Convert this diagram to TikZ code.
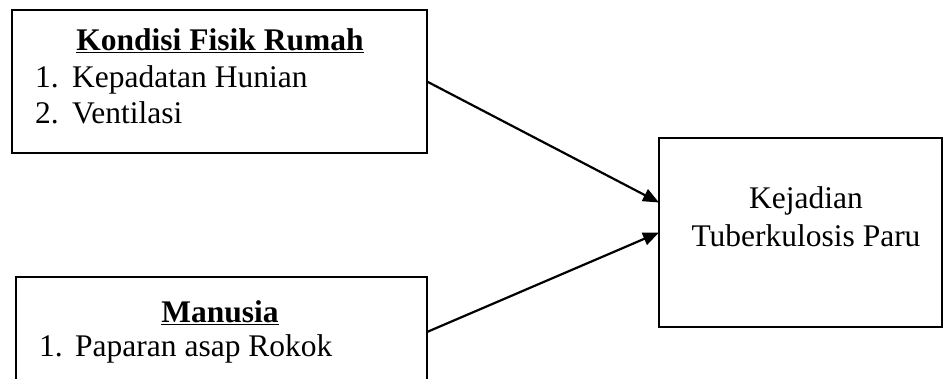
\documentclass[tikz,border=0pt]{standalone}
\usepackage{fontspec}
\setmainfont{Liberation Serif}
\usetikzlibrary{arrows.meta}
\newcommand{\bodyfont}{\fontsize{31.5pt}{37pt}\selectfont}
\begin{document}
\begin{tikzpicture}[x=1pt,y=-1pt,
  box/.style={draw, line width=2.2pt, inner sep=0pt, outer sep=0pt, anchor=north west},
  txt/.style={inner sep=0pt, anchor=base west, font=\bodyfont},
  ttl/.style={inner sep=0pt, anchor=base, font=\bodyfont\bfseries},
  link/.style={line width=2.2pt, -{Triangle[length=16pt,width=13pt]}}]
\useasboundingbox (0,0) rectangle (944,378);
\clip (0,0) rectangle (944,378);
% boxes
\node[box, minimum width=415pt, minimum height=143pt] (rumah) at (12,10) {};
\node[box, minimum width=411pt, minimum height=110pt] (manusia) at (16,277) {};
\node[box, minimum width=283pt, minimum height=189pt] (tb) at (659,138) {};
% box contents
\node[ttl] (t1) at (220,50) {\underline{Kondisi Fisik Rumah}};
\node[txt] (n11) at (35,87) {1.};
\node[txt] (i11) at (72,87) {Kepadatan Hunian};
\node[txt] (n12) at (35,123) {2.};
\node[txt] (i12) at (72,123) {Ventilasi};
\node[ttl] (t2) at (220,322) {\underline{Manusia}};
\node[txt] (n21) at (39,356) {1.};
\node[txt] (i21) at (75,356) {Paparan asap Rokok};
\node[txt, anchor=base] (k1) at (806,208) {Kejadian};
\node[txt, anchor=base] (k2) at (806,246) {Tuberkulosis Paru};
% connectors
\coordinate (in1) at ([yshift=30pt]tb.west);
\coordinate (out2) at ([yshift=0pt]manusia.east);
\draw[link] (rumah.east) -- (in1);
\draw[link] (out2) -- (tb.west);
\end{tikzpicture}
\end{document}
